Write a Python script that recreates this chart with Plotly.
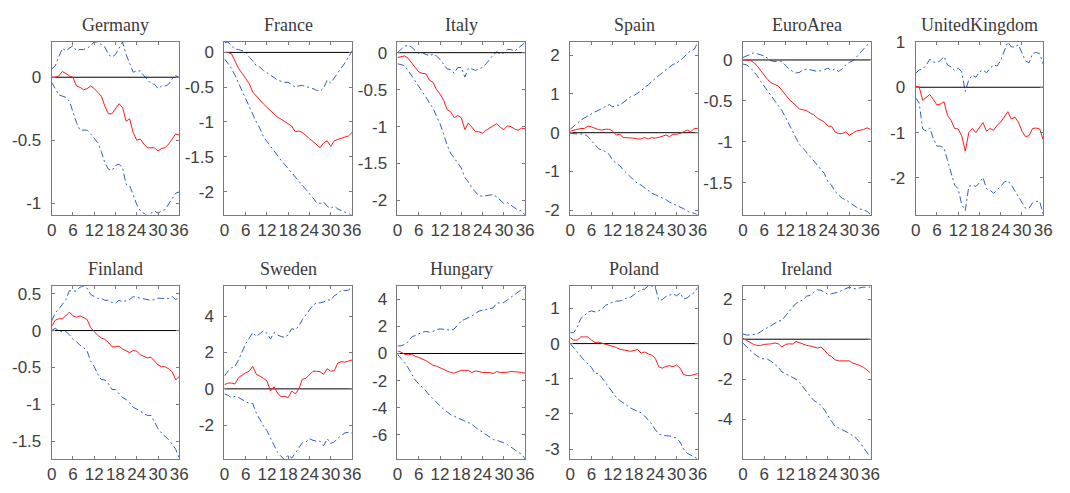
import plotly.graph_objects as go

# Impulse responses over a 36-month horizon: median (red) and error bands (blue)
horizon = list(range(37))
x_ticks = [0, 6, 12, 18, 24, 30, 36]

countries = ["Germany", "France", "Italy", "Spain", "EuroArea", "UnitedKingdom",
             "Finland", "Sweden", "Hungary", "Poland", "Ireland"]

germany_median = [0, 0, 0.01, 0.045, 0.03, 0.01, 0.0, -0.07, -0.08, -0.1, -0.09, -0.07, -0.09, -0.12, -0.15, -0.23, -0.29, -0.29, -0.25, -0.21, -0.24, -0.35, -0.33, -0.44, -0.50, -0.49, -0.53, -0.56, -0.56, -0.56, -0.585, -0.565, -0.56, -0.53, -0.49, -0.45, -0.46]
germany_upper = [0.064, 0.09, 0.16, 0.23, 0.21, 0.23, 0.25, 0.21, 0.22, 0.22, 0.23, 0.25, 0.28, 0.28, 0.26, 0.24, 0.18, 0.16, 0.18, 0.23, 0.28, 0.18, 0.115, 0.04, 0.05, 0.05, 0.013, -0.02, -0.05, -0.056, -0.09, -0.07, -0.07, -0.056, -0.013, 0.013, -0.005]
germany_lower = [-0.04, -0.09, -0.14, -0.15, -0.16, -0.19, -0.28, -0.36, -0.42, -0.42, -0.42, -0.45, -0.49, -0.52, -0.59, -0.68, -0.73, -0.74, -0.70, -0.69, -0.72, -0.85, -0.86, -0.93, -1.01, -1.06, -1.08, -1.10, -1.08, -1.06, -1.08, -1.06, -1.05, -1.01, -0.97, -0.92, -0.91]

france_median = [0, 0, -0.02, -0.12, -0.23, -0.30, -0.37, -0.45, -0.57, -0.63, -0.69, -0.74, -0.79, -0.84, -0.885, -0.93, -0.96, -0.99, -1.02, -1.06, -1.14, -1.13, -1.15, -1.20, -1.24, -1.28, -1.32, -1.37, -1.30, -1.27, -1.35, -1.27, -1.25, -1.23, -1.22, -1.20, -1.15]
france_upper = [0.14, 0.15, 0.09, 0.05, 0.04, 0.02, 0.01, -0.07, -0.12, -0.19, -0.21, -0.26, -0.29, -0.33, -0.36, -0.40, -0.42, -0.43, -0.43, -0.47, -0.50, -0.48, -0.475, -0.49, -0.50, -0.52, -0.545, -0.56, -0.51, -0.40, -0.44, -0.37, -0.30, -0.23, -0.15, -0.07, 0.02]
france_lower = [-0.09, -0.16, -0.23, -0.33, -0.44, -0.56, -0.68, -0.79, -0.885, -1.0, -1.09, -1.21, -1.28, -1.35, -1.42, -1.49, -1.55, -1.61, -1.67, -1.72, -1.78, -1.84, -1.90, -1.96, -2.03, -2.09, -2.16, -2.17, -2.15, -2.21, -2.24, -2.21, -2.25, -2.27, -2.30, -2.32, -2.34]

italy_median = [-0.066, -0.057, -0.044, -0.075, -0.13, -0.2, -0.26, -0.28, -0.285, -0.37, -0.40, -0.50, -0.56, -0.64, -0.77, -0.80, -0.88, -0.85, -0.88, -1.04, -0.95, -1.01, -1.07, -1.07, -1.09, -1.05, -1.02, -0.99, -0.96, -1.01, -1.04, -0.99, -1.0, -1.03, -1.05, -1.02, -1.03]
italy_upper = [0, 0.044, 0.088, 0.10, 0.075, 0.03, -0.013, 0, -0.02, -0.044, -0.02, -0.044, -0.09, -0.15, -0.22, -0.23, -0.28, -0.20, -0.2, -0.33, -0.21, -0.22, -0.24, -0.22, -0.2, -0.15, -0.09, -0.03, 0.013, -0.02, 0, 0.044, 0.044, 0.02, 0.057, 0.10, 0.14]
italy_lower = [-0.15, -0.16, -0.175, -0.24, -0.31, -0.38, -0.46, -0.53, -0.60, -0.68, -0.75, -0.86, -0.96, -1.10, -1.25, -1.36, -1.43, -1.49, -1.56, -1.69, -1.75, -1.83, -1.89, -1.94, -1.94, -1.93, -1.93, -1.92, -1.95, -1.99, -2.04, -2.03, -2.06, -2.10, -2.13, -2.14, -2.20]

spain_median = [0.04, 0.06, 0.09, 0.11, 0.11, 0.17, 0.15, 0.11, 0.08, 0.07, 0.09, 0.09, 0.04, -0.06, -0.04, -0.125, -0.125, -0.14, -0.14, -0.16, -0.16, -0.125, -0.16, -0.125, -0.14, -0.12, -0.08, -0.06, -0.1, -0.04, -0.04, -0.02, 0.025, 0.07, 0.025, 0.11, 0.11]
spain_upper = [0.09, 0.175, 0.26, 0.32, 0.38, 0.44, 0.5, 0.54, 0.58, 0.625, 0.675, 0.725, 0.67, 0.71, 0.71, 0.775, 0.86, 0.925, 0.96, 1.01, 1.08, 1.17, 1.23, 1.32, 1.4, 1.48, 1.55, 1.625, 1.69, 1.76, 1.79, 1.86, 1.94, 2.04, 2.11, 2.15, 2.33]
spain_lower = [-0.02, -0.025, -0.03, -0.03, -0.04, -0.1, -0.21, -0.31, -0.41, -0.45, -0.49, -0.56, -0.71, -0.79, -0.85, -0.96, -1.06, -1.14, -1.225, -1.31, -1.35, -1.42, -1.49, -1.56, -1.6, -1.64, -1.68, -1.725, -1.79, -1.83, -1.87, -1.91, -1.96, -2.02, -2.06, -2.075, -2.12]

euroarea_median = [0, 0, 0, -0.03, -0.07, -0.13, -0.19, -0.24, -0.28, -0.30, -0.32, -0.37, -0.43, -0.48, -0.52, -0.56, -0.60, -0.61, -0.62, -0.65, -0.67, -0.71, -0.73, -0.76, -0.81, -0.81, -0.88, -0.90, -0.90, -0.88, -0.92, -0.89, -0.87, -0.86, -0.85, -0.83, -0.85]
euroarea_upper = [0.03, 0.05, 0.07, 0.087, 0.075, 0.06, 0.05, 0.02, -0.01, -0.02, -0.01, -0.02, -0.07, -0.11, -0.14, -0.16, -0.15, -0.12, -0.11, -0.12, -0.13, -0.14, -0.13, -0.12, -0.10, -0.13, -0.11, -0.14, -0.11, -0.06, -0.03, -0.01, 0.035, 0.087, 0.14, 0.18, 0.22]
euroarea_lower = [-0.05, -0.06, -0.09, -0.14, -0.19, -0.26, -0.32, -0.39, -0.44, -0.50, -0.56, -0.62, -0.70, -0.79, -0.88, -0.96, -1.04, -1.08, -1.13, -1.18, -1.23, -1.28, -1.33, -1.39, -1.49, -1.53, -1.61, -1.65, -1.69, -1.71, -1.74, -1.78, -1.80, -1.82, -1.84, -1.85, -1.89]

uk_median = [0.02, 0.01, -0.29, -0.23, -0.16, -0.27, -0.39, -0.37, -0.32, -0.62, -0.73, -0.91, -0.92, -1.07, -1.41, -1.0, -0.91, -1.0, -0.90, -0.78, -0.97, -0.91, -0.95, -0.84, -0.77, -0.64, -0.54, -0.70, -0.66, -0.77, -0.97, -1.09, -1.07, -0.91, -0.90, -0.92, -1.16]
uk_upper = [0.31, 0.38, 0.40, 0.49, 0.62, 0.56, 0.54, 0.59, 0.68, 0.49, 0.45, 0.37, 0.42, 0.34, -0.09, 0.165, 0.27, 0.22, 0.34, 0.38, 0.32, 0.42, 0.49, 0.47, 0.59, 0.81, 1.0, 0.89, 0.89, 0.94, 0.77, 0.58, 0.54, 0.74, 0.77, 0.74, 0.51]
uk_lower = [-0.23, -0.35, -0.92, -0.97, -0.90, -1.13, -1.30, -1.30, -1.34, -1.63, -1.88, -2.16, -2.24, -2.59, -2.72, -2.19, -2.16, -2.19, -2.11, -1.99, -2.24, -2.27, -2.34, -2.27, -2.19, -2.09, -2.06, -2.16, -2.29, -2.42, -2.56, -2.67, -2.67, -2.55, -2.52, -2.52, -2.81]

finland_median = [0.057, 0.14, 0.16, 0.16, 0.20, 0.25, 0.20, 0.18, 0.20, 0.18, 0.15, 0.04, -0.013, -0.065, -0.10, -0.12, -0.16, -0.22, -0.22, -0.21, -0.25, -0.27, -0.30, -0.27, -0.28, -0.33, -0.35, -0.37, -0.36, -0.42, -0.465, -0.49, -0.49, -0.52, -0.56, -0.67, -0.62]
finland_upper = [0.13, 0.24, 0.29, 0.36, 0.42, 0.54, 0.54, 0.535, 0.59, 0.60, 0.575, 0.49, 0.46, 0.435, 0.435, 0.41, 0.41, 0.38, 0.37, 0.41, 0.39, 0.40, 0.42, 0.46, 0.45, 0.435, 0.43, 0.41, 0.41, 0.42, 0.44, 0.435, 0.44, 0.435, 0.46, 0.42, 0.45]
finland_lower = [0, 0.03, 0, -0.02, -0.013, -0.057, -0.12, -0.15, -0.2, -0.23, -0.28, -0.41, -0.49, -0.59, -0.665, -0.67, -0.72, -0.80, -0.80, -0.85, -0.91, -0.935, -0.98, -1.04, -1.065, -1.09, -1.13, -1.15, -1.15, -1.24, -1.33, -1.39, -1.435, -1.48, -1.54, -1.61, -1.74]

sweden_median = [0.23, 0.32, 0.32, 0.27, 0.62, 0.76, 0.88, 0.97, 1.24, 0.8, 0.71, 0.57, 0.44, -0.12, 0.12, -0.23, -0.44, -0.41, -0.48, -0.12, -0.27, 0.0, 0.53, 0.58, 0.76, 0.97, 0.97, 0.94, 0.8, 1.11, 0.97, 1.0, 1.42, 1.5, 1.47, 1.54, 1.59]
sweden_upper = [0.71, 0.97, 1.15, 1.24, 1.59, 2.04, 2.48, 2.78, 3.1, 2.88, 3.06, 3.19, 3.06, 2.74, 3.1, 2.96, 2.88, 2.83, 2.96, 3.31, 3.24, 3.45, 3.81, 4.07, 4.34, 4.6, 4.73, 4.73, 4.78, 4.9, 4.87, 5.13, 5.22, 5.43, 5.4, 5.43, 5.61]
sweden_lower = [-0.27, -0.35, -0.48, -0.41, -0.48, -0.58, -0.71, -0.8, -0.8, -1.33, -1.68, -2.04, -2.3, -2.71, -3.1, -3.49, -3.72, -3.9, -3.63, -3.81, -3.54, -3.27, -2.96, -2.92, -2.74, -2.83, -2.88, -2.88, -3.13, -2.74, -3.0, -2.92, -2.71, -2.57, -2.42, -2.39, -2.44]

hungary_median = [0.19, 0.1, -0.05, -0.1, -0.05, -0.21, -0.29, -0.38, -0.52, -0.69, -0.86, -0.93, -1.05, -1.17, -1.29, -1.40, -1.45, -1.33, -1.24, -1.24, -1.24, -1.40, -1.29, -1.33, -1.40, -1.40, -1.40, -1.48, -1.33, -1.40, -1.40, -1.38, -1.33, -1.33, -1.36, -1.40, -1.45]
hungary_upper = [0.55, 0.57, 0.67, 0.86, 1.21, 1.33, 1.45, 1.57, 1.62, 1.57, 1.62, 1.76, 1.81, 1.81, 1.76, 1.69, 1.81, 2.1, 2.4, 2.52, 2.64, 2.76, 2.95, 3.12, 3.19, 3.24, 3.29, 3.36, 3.71, 3.71, 3.76, 3.95, 4.14, 4.31, 4.48, 4.67, 4.9]
hungary_lower = [-0.05, -0.33, -0.69, -1.05, -1.48, -1.95, -2.24, -2.48, -2.76, -3.07, -3.36, -3.62, -3.86, -4.10, -4.33, -4.5, -4.62, -4.74, -4.81, -4.98, -5.05, -5.21, -5.45, -5.62, -5.81, -6.0, -6.17, -6.33, -6.40, -6.48, -6.57, -6.71, -6.88, -7.05, -7.24, -7.43, -7.76]

poland_median = [0.17, 0.10, 0.10, 0.19, 0.19, 0.19, 0.10, 0.03, 0.04, 0.01, -0.02, -0.04, -0.06, -0.11, -0.16, -0.17, -0.2, -0.22, -0.2, -0.17, -0.27, -0.24, -0.29, -0.33, -0.42, -0.66, -0.70, -0.65, -0.63, -0.66, -0.61, -0.70, -0.88, -0.91, -0.91, -0.89, -0.85]
poland_upper = [0.31, 0.31, 0.47, 0.72, 0.79, 0.90, 0.93, 0.90, 0.93, 0.99, 1.09, 1.14, 1.18, 1.21, 1.21, 1.25, 1.30, 1.32, 1.39, 1.45, 1.53, 1.55, 1.64, 1.64, 1.6, 1.23, 1.25, 1.34, 1.39, 1.42, 1.36, 1.44, 1.27, 1.30, 1.39, 1.45, 1.60]
poland_lower = [0, -0.11, -0.24, -0.36, -0.48, -0.59, -0.68, -0.85, -0.85, -0.98, -1.12, -1.25, -1.40, -1.53, -1.62, -1.69, -1.77, -1.83, -1.88, -1.92, -1.97, -2.06, -2.17, -2.29, -2.45, -2.57, -2.61, -2.61, -2.63, -2.66, -2.69, -2.80, -3.0, -3.12, -3.18, -3.24, -3.28]

ireland_median = [0.05, -0.06, -0.19, -0.26, -0.31, -0.31, -0.26, -0.26, -0.23, -0.19, -0.23, -0.39, -0.26, -0.23, -0.24, -0.11, -0.18, -0.27, -0.31, -0.34, -0.40, -0.44, -0.39, -0.55, -0.76, -0.87, -1.03, -1.08, -1.08, -1.08, -1.08, -1.19, -1.24, -1.31, -1.40, -1.52, -1.68]
ireland_upper = [0.26, 0.21, 0.21, 0.24, 0.26, 0.37, 0.5, 0.58, 0.69, 0.79, 0.9, 0.94, 1.18, 1.39, 1.60, 1.79, 1.87, 1.98, 2.15, 2.19, 2.35, 2.47, 2.44, 2.35, 2.24, 2.27, 2.32, 2.35, 2.44, 2.52, 2.60, 2.52, 2.52, 2.56, 2.60, 2.60, 2.60]
ireland_lower = [-0.19, -0.39, -0.55, -0.71, -0.82, -0.95, -0.98, -1.0, -1.11, -1.24, -1.40, -1.63, -1.73, -1.84, -1.92, -2.0, -2.16, -2.40, -2.65, -2.85, -3.05, -3.18, -3.29, -3.53, -3.85, -4.10, -4.34, -4.42, -4.50, -4.58, -4.69, -4.82, -4.95, -5.15, -5.39, -5.63, -5.90]

medians = [germany_median, france_median, italy_median, spain_median, euroarea_median, uk_median,
           finland_median, sweden_median, hungary_median, poland_median, ireland_median]
uppers = [germany_upper, france_upper, italy_upper, spain_upper, euroarea_upper, uk_upper,
          finland_upper, sweden_upper, hungary_upper, poland_upper, ireland_upper]
lowers = [germany_lower, france_lower, italy_lower, spain_lower, euroarea_lower, uk_lower,
          finland_lower, sweden_lower, hungary_lower, poland_lower, ireland_lower]

y_ticks = [
    [-1, -0.5, 0],
    [-2, -1.5, -1, -0.5, 0],
    [-2, -1.5, -1, -0.5, 0],
    [-2, -1, 0, 1, 2],
    [-1.5, -1, -0.5, 0],
    [-2, -1, 0, 1],
    [-1.5, -1, -0.5, 0, 0.5],
    [-2, 0, 2, 4],
    [-6, -4, -2, 0, 2, 4],
    [-3, -2, -1, 0, 1],
    [-4, -2, 0, 2],
]
y_limits = [
    [-1.09, 0.28], [-2.33, 0.15], [-2.19, 0.145], [-2.11, 2.34], [-1.89, 0.22], [-2.81, 1.0],
    [-1.74, 0.60], [-3.85, 5.64], [-7.76, 4.95], [-3.28, 1.63], [-5.97, 2.64],
]

W, H = 1070, 493
col_left = [47.3, 222.3, 397.7, 572.7, 747.7, 922.7]
panel_w = 129.3
row_top = [34, 286]
panel_h = 178

RED = "#ff1a1a"
BLUE = "#2d5fc0"
AXIS_GRAY = "#7a7a7a"
TEXT_GRAY = "#404040"
band_dash = "7px,3px,2px,3px"


def fmt(v):
    return f"{v:g}"


fig = go.Figure()
annotations = []
for i, name in enumerate(countries):
    r, c = divmod(i, 6)
    k = "" if i == 0 else str(i + 1)
    x0 = col_left[c] / W
    x1 = (col_left[c] + panel_w) / W
    y1 = (H - row_top[r]) / H
    y0 = (H - row_top[r] - panel_h) / H

    xa, ya = "x" + k, "y" + k
    fig.add_trace(go.Scatter(x=horizon, y=uppers[i], mode="lines", xaxis=xa, yaxis=ya,
                             line=dict(color=BLUE, width=1, dash=band_dash), showlegend=False))
    fig.add_trace(go.Scatter(x=horizon, y=lowers[i], mode="lines", xaxis=xa, yaxis=ya,
                             line=dict(color=BLUE, width=1, dash=band_dash), showlegend=False))
    fig.add_trace(go.Scatter(x=[horizon[0], horizon[-1]], y=[0, 0], mode="lines", xaxis=xa, yaxis=ya,
                             line=dict(color="black", width=1), showlegend=False))
    fig.add_trace(go.Scatter(x=horizon, y=medians[i], mode="lines", xaxis=xa, yaxis=ya,
                             line=dict(color=RED, width=1), showlegend=False))

    common = dict(showline=True, linecolor=AXIS_GRAY, linewidth=1, mirror="ticks",
                  ticks="inside", ticklen=3, tickcolor=AXIS_GRAY, tickwidth=1,
                  showgrid=False, zeroline=False,
                  tickfont=dict(family="Liberation Sans", size=17, color=TEXT_GRAY))
    fig.update_layout(**{
        "xaxis" + k: dict(domain=[x0, x1], anchor=ya, range=[0, 36], tickmode="array",
                          tickvals=x_ticks, ticktext=[str(t) for t in x_ticks], **common),
        "yaxis" + k: dict(domain=[y0, y1], anchor=xa, range=y_limits[i], tickmode="array",
                          tickvals=y_ticks[i], ticktext=[fmt(t) for t in y_ticks[i]],
                          ticklabelstandoff=6, **common),
    })
    annotations.append(dict(text=name, xref="paper", yref="paper",
                            x=(x0 + x1) / 2, y=y1, xanchor="center", yanchor="bottom",
                            yshift=5, showarrow=False,
                            font=dict(family="Liberation Serif", size=18, color="#3a3a3a")))

fig.update_layout(width=W, height=H, margin=dict(l=0, r=0, t=0, b=0),
                  paper_bgcolor="white", plot_bgcolor="white", annotations=annotations)

fig.write_html("out.html")
